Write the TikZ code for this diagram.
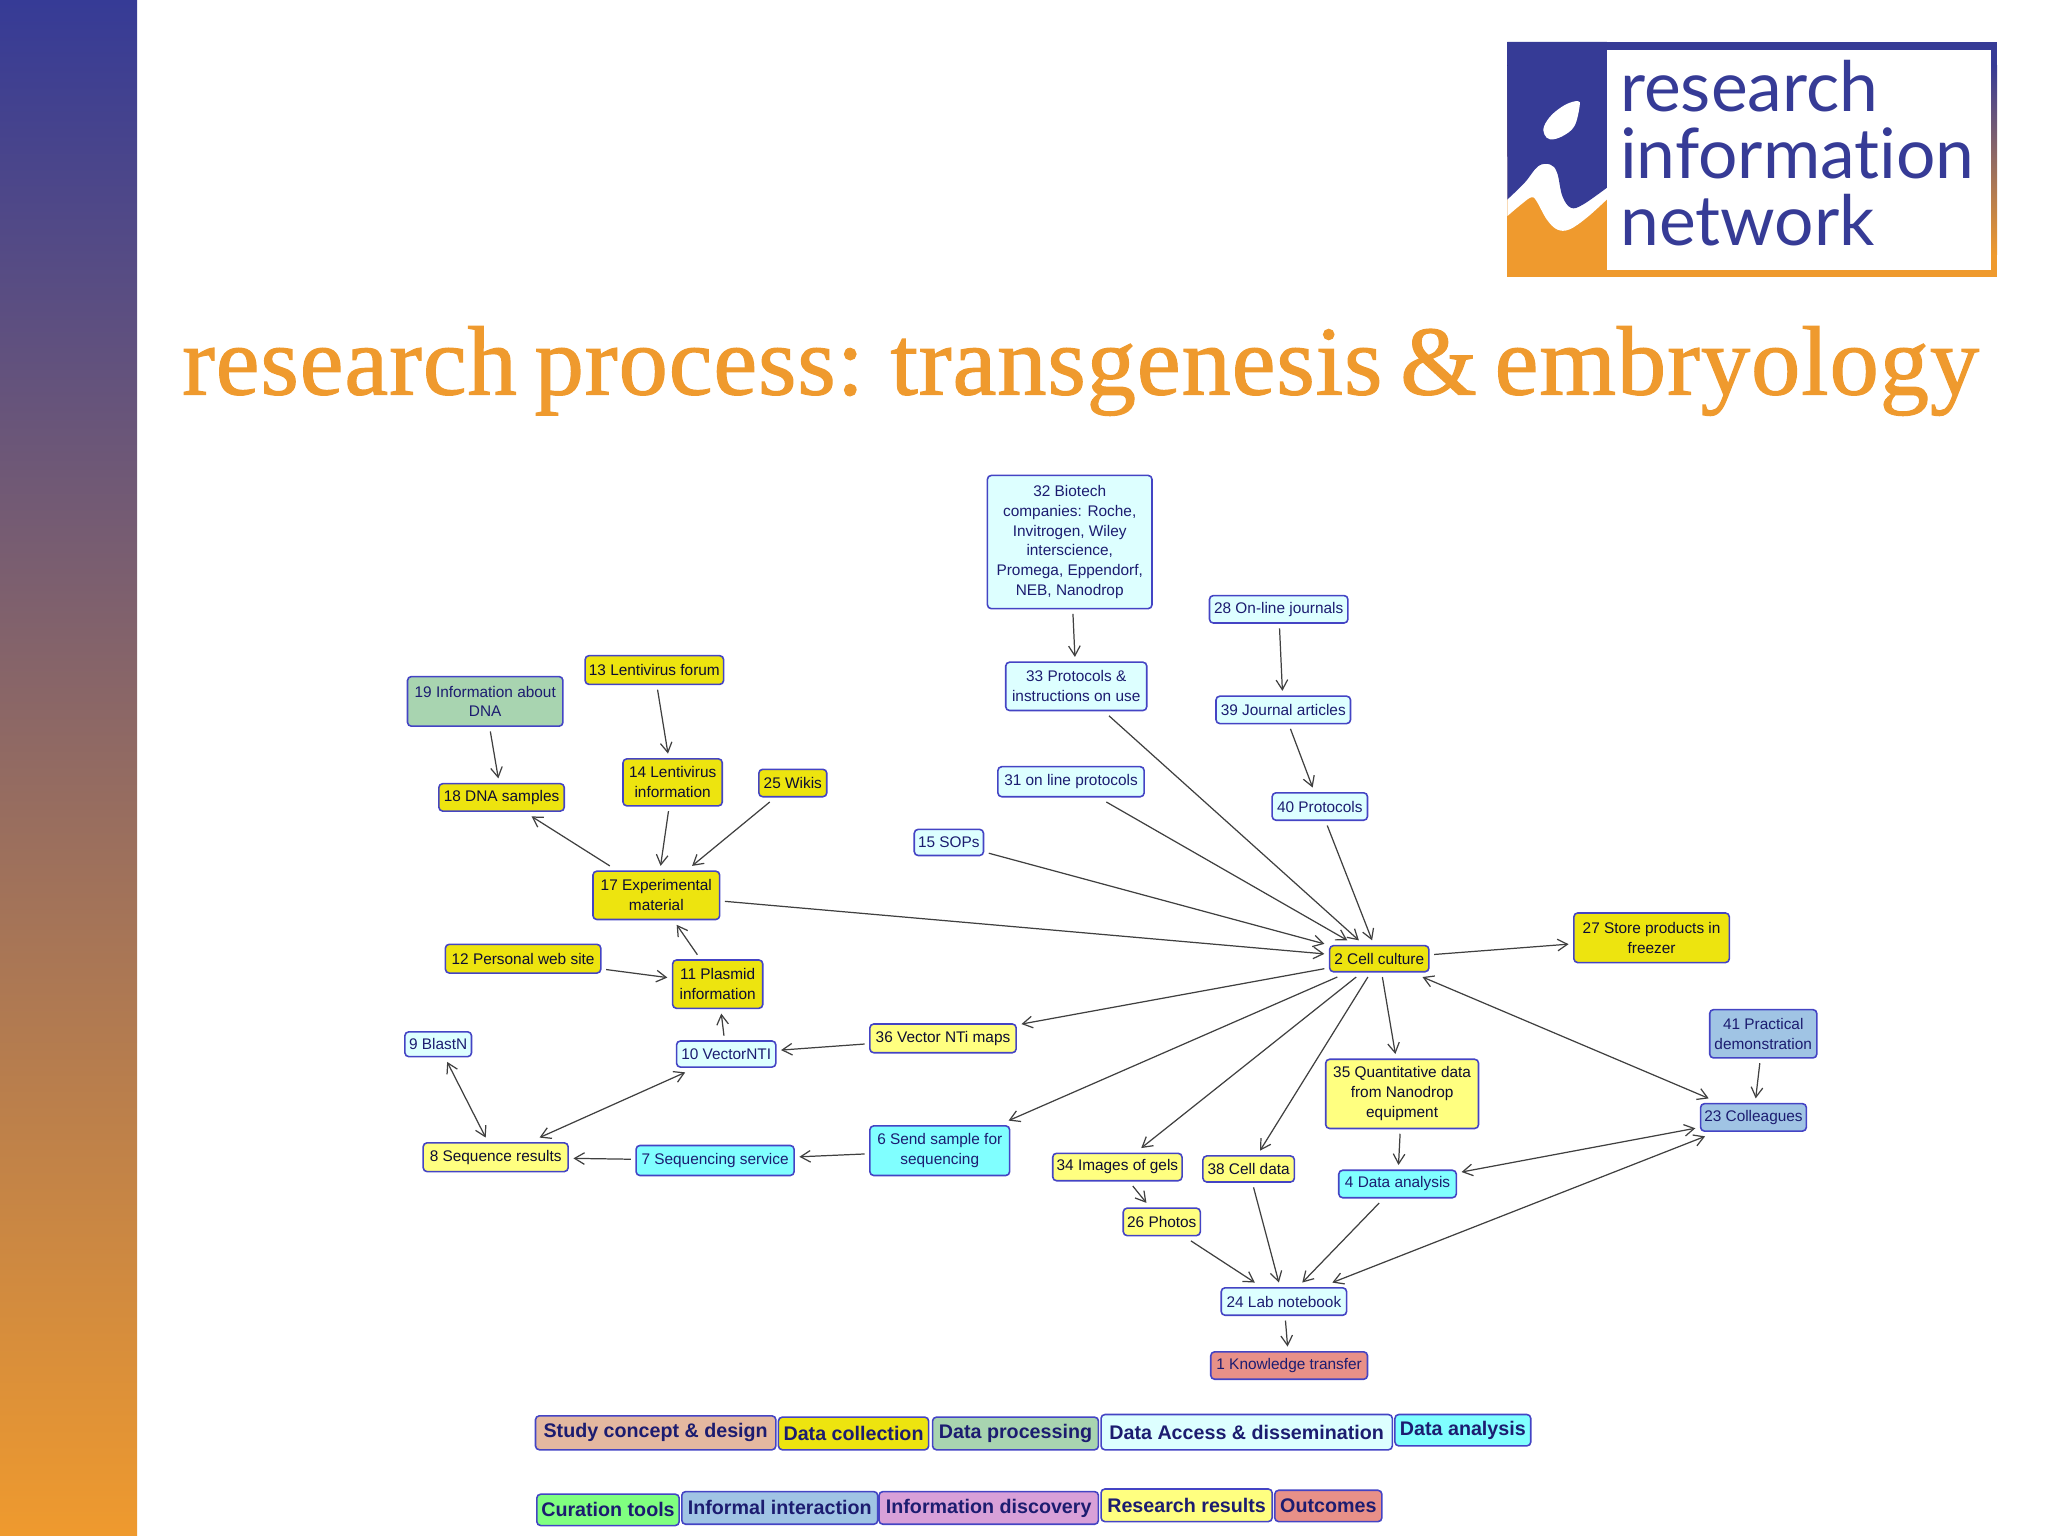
\documentclass[tikz,border=0pt]{standalone}
\usepackage{fontspec}
\usepackage{xcolor}
\setmainfont{Liberation Sans}
\newfontfamily\titlefont[FakeBold=1.2,LetterSpace=1.0,WordSpace=0.7]{Liberation Serif}
\newfontfamily\logofont[Ligatures=NoCommon]{Lato}
\usetikzlibrary{arrows.meta}

\def\ux{0.0130612cm}
\definecolor{rinblue}{HTML}{363B96}
\definecolor{rinorange}{HTML}{EF9A2E}
\definecolor{edgeblue}{HTML}{4444C4}
\definecolor{inkblue}{HTML}{1C1C70}
\definecolor{cstudy}{HTML}{E4B8A0}
\definecolor{ccollect}{HTML}{EDE40F}
\definecolor{cprocess}{HTML}{A8D4B0}
\definecolor{caccess}{HTML}{DDFFFF}
\definecolor{canalysis}{HTML}{80FFFF}
\definecolor{ccurate}{HTML}{80FF80}
\definecolor{cinformal}{HTML}{A0C4E4}
\definecolor{cdiscover}{HTML}{D8A0D8}
\definecolor{cresult}{HTML}{FFFF80}
\definecolor{coutcome}{HTML}{E89088}

\begin{document}
\begin{tikzpicture}[x=\ux,y=-\ux,>={Straight Barb[length=2.8pt,width=3.3pt]},line width=0.35pt,
  every edge/.style={draw=black!75},
  main node/.style={rectangle,rounded corners=1.1pt,draw=edgeblue,line width=0.45pt,text=inkblue,
    inner sep=0pt,outer sep=1.5pt,align=center,font=\fontsize{4.38}{5.65}\selectfont},
  wh/.style 2 args={minimum width=#1*\ux,minimum height=#2*\ux},
  collect node/.style={main node,fill=ccollect,text=black!55!inkblue},
  result node/.style={main node,fill=cresult,text=black!55!inkblue},
  access node/.style={main node,fill=caccess},
  analysis node/.style={main node,fill=canalysis},
  process node/.style={main node,fill=cprocess},
  informal node/.style={main node,fill=cinformal},
  outcome node/.style={main node,fill=coutcome},
  key node/.style={main node,text=inkblue,font=\fontsize{5.6}{6.5}\selectfont\bfseries}]

  \useasboundingbox (0,0) rectangle (1568,1176);

  % side band and logo
  \fill[top color=rinblue,bottom color=rinorange] (0,0) rectangle (105,1176);
  \fill[rinorange] (1154,32) rectangle (1529,212);
  \fill[top color=rinblue,bottom color=rinorange,middle color=rinblue!50!rinorange] (1154,50) rectangle (1529,195);
  \fill[rinblue] (1154,32) rectangle (1529,50);
  \fill[rinorange] (1154,120) rectangle (1230,212);
  \fill[white] (1154,120) -- (1230.2,120) -- plot[smooth,tension=0.6] coordinates {(1230.2,152.8) (1214.7,166.8) (1201.5,175.7) (1192.2,175.7) (1184.3,168.1)
    (1176.4,154) (1172.5,151) (1164.5,156.6) (1154,165.5)} -- cycle;
  \fill[rinblue] (1154,32) -- (1230.2,32) -- plot[smooth,tension=0.6] coordinates {(1230.2,143.8) (1212,156.6) (1202.8,159.1) (1196.2,150.2) (1192.2,132.3) (1187,126) (1177.7,127.2) (1167.2,140) (1154,152.8)} -- cycle;
  \fill[white] plot[smooth cycle,tension=0.6] coordinates {(1208,77.4) (1209.4,81.3) (1205.4,96.6) (1196.2,104.3) (1187,106.8)
    (1182.5,103) (1182.2,96.6) (1188.3,87.7) (1198.8,80)};
  \fill[white] (1230,38) rectangle (1524,207);
  \node[anchor=base west,inner sep=0pt,text=rinblue,font=\logofont\fontsize{19.8}{19}\selectfont] (logo1) at (1240,85) {research};
  \node[anchor=base west,inner sep=0pt,text=rinblue,font=\logofont\fontsize{19.8}{19}\selectfont] (logo2) at (1240,136.5) {information};
  \node[anchor=base west,inner sep=0pt,text=rinblue,font=\logofont\fontsize{19.8}{19}\selectfont] (logo3) at (1240,188) {network};

  \node[anchor=base west,inner sep=0pt,text=rinorange,font=\titlefont\fontsize{28}{30}\selectfont] (title) at (139,302) {research process: transgenesis \& embryology};

  % process map
  \node[access node,wh={126}{102}] (n32) at (819,415) {32 Biotech\\companies: Roche,\\Invitrogen, Wiley\\interscience,\\Promega, Eppendorf,\\NEB, Nanodrop};
  \node[access node,wh={108}{37}] (n33) at (824,525.5) {33 Protocols \&\\instructions on use};
  \node[access node,wh={106}{21}] (n28) at (979,466.5) {28 On-line journals};
  \node[access node,wh={103}{21}] (n39) at (982.5,543.5) {39 Journal articles};
  \node[access node,wh={73}{21}] (n40) at (1010.5,617.5) {40 Protocols};
  \node[access node,wh={112}{23}] (n31) at (820,598.5) {31 on line protocols};
  \node[access node,wh={53}{20}] (n15) at (726.5,645) {15 SOPs};
  \node[collect node,wh={106}{22}] (n13) at (501,513) {13 Lentivirus forum};
  \node[process node,wh={119}{38}] (n19) at (371.5,537) {19 Information about\\DNA};
  \node[collect node,wh={96}{21}] (n18) at (384,610.5) {18 DNA samples};
  \node[collect node,wh={76}{36}] (n14) at (515,599) {14 Lentivirus\\information};
  \node[collect node,wh={52}{21}] (n25) at (607,599.5) {25 Wikis};
  \node[collect node,wh={97}{37}] (n17) at (502.5,685.5) {17 Experimental\\material};
  \node[collect node,wh={119}{22}] (n12) at (400.5,734) {12 Personal web site};
  \node[collect node,wh={69}{37}] (n11) at (549.5,753.5) {11 Plasmid\\information};
  \node[collect node,wh={76}{20}] (n2) at (1056,734) {2 Cell culture};
  \node[collect node,wh={119}{38}] (n27) at (1264.5,718) {27 Store products in\\freezer};
  \node[result node,wh={112}{22}] (n36) at (722,795) {36 Vector NTi maps};
  \node[access node,wh={76}{20}] (n10) at (556,807) {10 VectorNTI};
  \node[access node,wh={51}{19}] (n9) at (335.5,799.5) {9 BlastN};
  \node[result node,wh={111}{22}] (n8) at (379.5,886) {8 Sequence results};
  \node[analysis node,wh={121}{23}] (n7) at (547.5,888.5) {7 Sequencing service};
  \node[analysis node,wh={107}{38}] (n6) at (719.5,881) {6 Send sample for\\sequencing};
  \node[result node,wh={117}{53}] (n35) at (1073.5,837.5) {35 Quantitative data\\from Nanodrop\\equipment};
  \node[result node,wh={99}{21}] (n34) at (855.5,893.5) {34 Images of gels};
  \node[result node,wh={70}{20}] (n38) at (956,895) {38 Cell data};
  \node[analysis node,wh={90}{21}] (n4) at (1070,906.5) {4 Data analysis};
  \node[result node,wh={59}{21}] (n26) at (889.5,935.5) {26 Photos};
  \node[access node,wh={96}{21}] (n24) at (983,996.5) {24 Lab notebook};
  \node[outcome node,wh={120}{21}] (n1) at (987,1045.5) {1 Knowledge transfer};
  \node[informal node,wh={82}{37}] (n41) at (1350,791.5) {41 Practical\\demonstration};
  \node[informal node,wh={81}{21}] (n23) at (1342.5,855.5) {23 Colleagues};

  \path[->]
    (n32) edge (n33)
    (n28) edge (n39)
    (n39) edge (n40)
    (n33) edge (n2)
    (n31) edge (n2)
    (n40) edge (n2)
    (n15) edge (n2)
    (n17) edge (n2)
    (n13) edge (n14)
    (n14) edge (n17)
    (n25) edge (n17)
    (n19) edge (n18)
    (n17) edge (n18)
    (n11) edge (n17)
    (n12) edge (n11)
    (n10) edge (n11)
    (n36) edge (n10)
    (n2) edge (n36)
    (n2) edge (n27)
    (n2) edge (n6)
    (n2) edge (n34)
    (n2) edge (n38)
    (n2) edge (n35)
    (n6) edge (n7)
    (n7) edge (n8)
    (n9) edge[<->] (n8)
    (n10) edge[<->] (n8)
    (n35) edge (n4)
    (n34) edge (n26)
    (n26) edge (n24)
    (n38) edge (n24)
    (n4) edge (n24)
    (n24) edge (n1)
    (n41) edge (n23)
    (n2) edge[<->] (n23)
    (n4) edge[<->] (n23)
    (n24) edge[<->] (n23)
    ;

  % legend
  \node[key node,fill=cstudy,wh={184}{26}] (k1) at (502,1097) {Study concept \& design};
  \node[key node,fill=ccollect,wh={115}{25}] (k2) at (653.5,1097.5) {Data collection};
  \node[key node,fill=cprocess,wh={127}{25}] (k3) at (777.5,1097.5) {Data processing};
  \node[key node,fill=caccess,wh={223}{27}] (k4) at (954.5,1096.5) {Data Access \& dissemination};
  \node[key node,fill=canalysis,wh={104}{24}] (k5) at (1120,1095) {Data analysis};
  \node[key node,fill=ccurate,wh={109}{24}] (k6) at (465.5,1156) {Curation tools};
  \node[key node,fill=cinformal,wh={150}{25}] (k7) at (597,1154.5) {Informal interaction};
  \node[key node,fill=cdiscover,wh={168}{25}] (k8) at (757,1154.5) {Information discovery};
  \node[key node,fill=cresult,wh={131}{25}] (k9) at (908.5,1152.5) {Research results};
  \node[key node,fill=coutcome,wh={82}{24}] (k10) at (1017,1153) {Outcomes};
\end{tikzpicture}
\end{document}
